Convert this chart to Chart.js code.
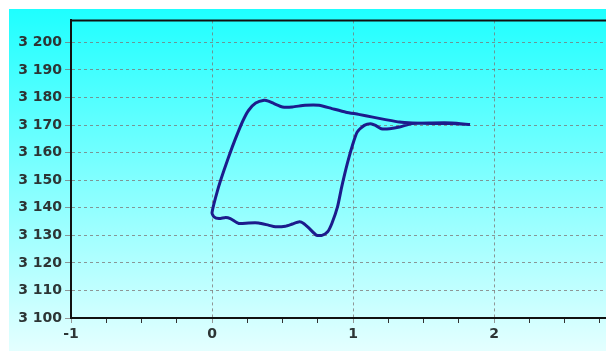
<!DOCTYPE html>
<html>
<head>
<meta charset="utf-8">
<script src="https://cdn.jsdelivr.net/npm/chart.js@4"></script>
<style>
  html, body { margin: 0; padding: 0; background: #fff; overflow: hidden; }
  #wrap { position: absolute; left: 9px; top: 9px; width: 640px; height: 342px;
          background: linear-gradient(#1effff, #e4ffff); }
</style>
</head>
<body>
<div id="wrap"><canvas id="loopChart" width="640" height="342"></canvas></div>
<script>
// loop trace: upper branch right -> left, then lower branch left -> right
const xVals = [1.83, 1.70, 1.56, 1.42, 1.33, 1.23, 1.14, 1.04, 0.95, 0.85, 0.76, 0.66, 0.57, 0.50, 0.44, 0.40, 0.37, 0.31, 0.26, 0.227, 0.19, 0.144, 0.085, 0.04, 0.00,
               0.014, 0.05, 0.097, 0.13, 0.19, 0.26, 0.33, 0.40, 0.45, 0.52, 0.57, 0.62, 0.65, 0.69, 0.74, 0.78, 0.82, 0.85, 0.89, 0.92, 0.96, 1.00, 1.03, 1.08, 1.125, 1.16, 1.20, 1.26, 1.33, 1.42, 1.56, 1.70, 1.83];
const yVals = [3170.2, 3170.6, 3170.6, 3170.8, 3171.1, 3172.0, 3172.9, 3173.9, 3174.7, 3176.0, 3177.2, 3177.2, 3176.6, 3176.6, 3177.8, 3178.7, 3179.0, 3178.0, 3175.4, 3172.4, 3168.1, 3162.1, 3153.6, 3146.4, 3138.2,
               3136.7, 3136.1, 3136.5, 3136.1, 3134.3, 3134.5, 3134.5, 3133.7, 3133.1, 3133.3, 3134.1, 3134.9, 3134.3, 3132.5, 3130.1, 3130.0, 3131.3, 3134.3, 3140.3, 3147.6, 3156.1, 3163.3, 3167.5, 3169.9, 3170.5, 3169.9, 3168.7, 3168.7, 3169.3, 3170.6, 3170.8, 3170.8, 3170.2];
const xLabels = [-1, 0, 1, 2, 3];
const yMin = 3100, yMax = 3208;

const points = xVals.map((x, i) => ({ x: x, y: yVals[i] }));
const isMajor = v => xLabels.includes(v);
const gridGray = 'rgba(125,115,115,0.75)';
const labelFont = { family: 'DejaVu Sans', size: 14, weight: 'bold' };

// top frame line
const topLine = {
    id: 'topLine',
    afterDraw(chart) {
        const a = chart.chartArea, c = chart.ctx;
        c.save();
        c.strokeStyle = '#111';
        c.lineWidth = 2;
        c.beginPath();
        c.moveTo(a.left, a.top);
        c.lineTo(a.right, a.top);
        c.stroke();
        c.restore();
    }
};

new Chart(document.getElementById('loopChart'), {
    type: 'scatter',
    data: {
        datasets: [{
            data: points,
            showLine: true,
            borderColor: '#1c1c8c',
            borderWidth: 3,
            pointRadius: 0,
            tension: 0.2
        }]
    },
    options: {
        responsive: false,
        animation: false,
        devicePixelRatio: 1,
        layout: { padding: { top: 10, right: 14 } },
        plugins: { legend: { display: false }, tooltip: { enabled: false } },
        scales: {
            x: {
                type: 'linear',
                min: -1, max: 3,
                afterFit: s => { s.height = 33; },
                ticks: {
                    stepSize: 0.25,
                    autoSkip: false,
                    maxRotation: 0,
                    padding: 3,
                    color: '#2d3535',
                    font: labelFont,
                    callback: v => isMajor(v) ? String(v) : ''
                },
                grid: {
                    color: c => isMajor(c.tick.value) ? gridGray : 'transparent',
                    tickColor: c => isMajor(c.tick.value) ? gridGray : '#333',
                    tickLength: 5,
                    lineWidth: 1
                },
                border: { color: '#111', width: 2, dash: [3, 3] }
            },
            y: {
                min: yMin, max: yMax,
                afterFit: s => { s.width = 62; },
                ticks: {
                    stepSize: 10,
                    includeBounds: false,
                    padding: 3,
                    color: '#2d3535',
                    font: labelFont,
                    callback: v => String(v).replace(/\B(?=(\d{3})+(?!\d))/g, ' ')
                },
                grid: {
                    color: gridGray,
                    tickColor: gridGray,
                    tickLength: 6,
                    lineWidth: 1
                },
                border: { color: '#111', width: 2, dash: [3, 3] }
            }
        }
    },
    plugins: [topLine]
});
</script>
</body>
</html>
